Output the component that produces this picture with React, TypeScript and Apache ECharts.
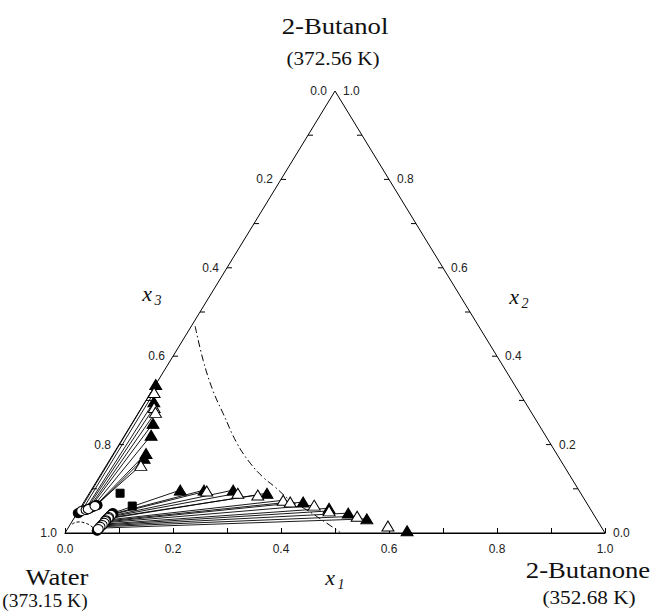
import React, { useEffect, useRef } from "react";
import * as echarts from "echarts";

// Compositions are [x1 (2-butanone), x2 (2-butanol)]; water = 1 - x1 - x2
const triangleVertices = [[0, 0], [0, 1], [1, 0], [0, 0]];

// Experimental tie lines (filled symbols)
const expOrganicA = [[0.000, 0.336], [0.016, 0.297], [0.039, 0.248], [0.049, 0.221], [0.060, 0.180], [0.062, 0.169]];
const expAqueousA = [[0.002, 0.045], [0.011, 0.052], [0.018, 0.056], [0.022, 0.059], [0.026, 0.063], [0.028, 0.063]];
const expOrganicB = [[0.165, 0.097], [0.209, 0.097], [0.263, 0.097], [0.329, 0.090], [0.406, 0.070], [0.461, 0.056], [0.502, 0.045], [0.543, 0.032]];
const expAqueousB = [[0.066, 0.045], [0.066, 0.043], [0.064, 0.038], [0.062, 0.032], [0.062, 0.025], [0.060, 0.020], [0.059, 0.016], [0.058, 0.011]];
const expOrganicLone = [[0.631, 0.005]];
const expAqueousLone = [[0.057, 0.005]];

// Calculated tie lines (open symbols)
const calcOrganicA = [[0.006, 0.318], [0.023, 0.284], [0.031, 0.273], [0.064, 0.153]];
const calcAqueousA = [[0.006, 0.050], [0.013, 0.052], [0.016, 0.054], [0.025, 0.061]];
const calcOrganicB = [[0.215, 0.095], [0.275, 0.090], [0.314, 0.086], [0.367, 0.074], [0.382, 0.070], [0.430, 0.063], [0.464, 0.050], [0.522, 0.038]];
const calcAqueousB = [[0.065, 0.041], [0.063, 0.036], [0.063, 0.034], [0.061, 0.029], [0.061, 0.027], [0.061, 0.023], [0.060, 0.018], [0.058, 0.014]];
const calcOrganicLone = [[0.590, 0.016]];
const calcAqueousLone = [[0.057, 0.009]];

// Squares
const squarePoints = [[0.057, 0.090], [0.094, 0.061]];

// Curves
const dashDotCurve = [[0.007, 0.468], [0.061, 0.390], [0.113, 0.322], [0.158, 0.270], [0.217, 0.203], [0.264, 0.158], [0.304, 0.126], [0.337, 0.104], [0.380, 0.074], [0.422, 0.052], [0.462, 0.029], [0.508, 0.002]];
const waterArc = [[0.003, 0.020], [0.012, 0.025], [0.026, 0.0225], [0.040, 0.016], [0.052, 0.007]];

// Side ticks (fraction of the side measured from the 2-Butanol apex)
const sideTickFractions = [0.1, 0.2, 0.3, 0.4, 0.5, 0.6, 0.7, 0.8, 0.9];
const sideLabelFractions = [0, 0.2, 0.4, 0.6, 0.8, 1.0];
const leftSideLabels = ["0.0", "0.2", "0.4", "0.6", "0.8", "1.0"];
const rightSideLabels = ["1.0", "0.8", "0.6", "0.4", "0.2", "0.0"];

const toXY = (p: number[]) => [p[0] + p[1] / 2, p[1]];
const leftPoint = (t: number) => toXY([0, 1 - t]);
const rightPoint = (t: number) => toXY([t, 1 - t]);

const SERIF = "'Liberation Serif', 'Times New Roman', serif";
const SANS = "'Liberation Sans', Arial, sans-serif";

function tieLines(org: number[][], aq: number[][]) {
  return org.map((o, i) => ({ coords: [toXY(aq[i]), toXY(o)] }));
}

export default function App() {
  const ref = useRef<HTMLDivElement>(null);
  useEffect(() => {
    if (!ref.current) return;
    const chart = echarts.init(ref.current, undefined, { renderer: "svg" });

    const titleText = (text: string, x: number, y: number, size: number, sx: number) => ({
      type: "text",
      x,
      y,
      scaleX: sx,
      style: {
        text,
        fontSize: size,
        fontFamily: SERIF,
        fill: "#111",
        textAlign: "center",
        textVerticalAlign: "middle",
        align: "center",
        verticalAlign: "middle",
      },
    });
    const italic = (text: string, x: number, y: number, size: number) => ({
      type: "text",
      x,
      y,
      style: {
        text,
        fontSize: size,
        fontStyle: "italic",
        fontFamily: SERIF,
        fill: "#111",
        textAlign: "center",
        textVerticalAlign: "middle",
        align: "center",
        verticalAlign: "middle",
      },
    });

    const tickSeries = (pts: number[][], dir: number) => ({
      type: "custom",
      coordinateSystem: "cartesian2d",
      silent: true,
      z: 5,
      data: pts.map((p) => [p[0], p[1], dir]),
      renderItem: (params: any, api: any) => {
        const c = api.coord([api.value(0), api.value(1)]);
        const d = api.value(2);
        return {
          type: "line",
          shape: { x1: c[0], y1: c[1], x2: c[0] + d * 5, y2: c[1] },
          style: { stroke: "#000", lineWidth: 1 },
        };
      },
    });
    const labelSeries = (pts: number[][], labels: string[], dir: number) => ({
      type: "custom",
      coordinateSystem: "cartesian2d",
      silent: true,
      z: 5,
      data: pts.map((p) => [p[0], p[1], dir]),
      renderItem: (params: any, api: any) => {
        const c = api.coord([api.value(0), api.value(1)]);
        const d = api.value(2);
        return {
          type: "text",
          x: c[0] + d * 8,
          y: c[1],
          style: {
            text: labels[params.dataIndex],
            fontSize: 12,
            fontFamily: SANS,
            fill: "#222",
            textAlign: d < 0 ? "right" : "left",
            textVerticalAlign: "middle",
            align: d < 0 ? "right" : "left",
            verticalAlign: "middle",
          },
        };
      },
    });

    const scatter = (data: number[][], symbol: string, size: any, filled: boolean, z: number) => ({
      type: "scatter",
      data: data.map(toXY),
      symbol,
      symbolSize: size,
      z,
      itemStyle: {
        color: filled ? "#000" : "#fff",
        borderColor: "#000",
        borderWidth: 1,
        opacity: 1,
      },
    });

    const option: any = {
      animation: false,
      grid: { left: 65, top: 91, width: 540, height: 442, containLabel: false },
      xAxis: {
        type: "value",
        min: 0,
        max: 1,
        interval: 0.1,
        axisLine: { show: true, onZero: false, lineStyle: { color: "#000", width: 1 } },
        axisTick: { show: true, inside: true, length: 5, lineStyle: { color: "#000", width: 1 } },
        axisLabel: {
          show: true,
          showMinLabel: true,
          showMaxLabel: true,
          margin: 10,
          fontSize: 12,
          fontFamily: SANS,
          color: "#222",
          formatter: (v: number) => {
            const k = Math.round(v * 10);
            return k % 2 === 0 ? (k / 10).toFixed(1) : "";
          },
        },
        splitLine: { show: false },
      },
      yAxis: { type: "value", min: 0, max: 1, show: false },
      graphic: [
        titleText("2-Butanol", 335, 26, 23, 1.16),
        titleText("(372.56 K)", 333, 59, 18, 1.18),
        titleText("Water", 57, 577, 23, 1.16),
        titleText("(373.15 K)", 45, 601, 18, 1.08),
        titleText("2-Butanone", 588, 570, 23, 1.16),
        titleText("(352.68 K)", 589, 598, 18, 1.18),
        italic("x", 147, 293, 22),
        italic("3", 158, 300, 14),
        italic("x", 514, 296, 22),
        italic("2", 525, 303, 14),
        italic("x", 330, 577, 22),
        italic("1", 341, 584, 14),
      ],
      series: [
        {
          type: "line",
          data: triangleVertices.map(toXY),
          symbol: "none",
          lineStyle: { color: "#000", width: 1 },
          z: 3,
        },
        tickSeries(sideTickFractions.map(leftPoint), 1),
        tickSeries(sideTickFractions.map(rightPoint), -1),
        labelSeries(sideLabelFractions.map(leftPoint), leftSideLabels, -1),
        labelSeries(sideLabelFractions.map(rightPoint), rightSideLabels, 1),
        {
          type: "lines",
          coordinateSystem: "cartesian2d",
          z: 2,
          lineStyle: { color: "#000", width: 0.9, opacity: 1 },
          data: [
            ...tieLines(expOrganicA, expAqueousA),
            ...tieLines(expOrganicB, expAqueousB),
            ...tieLines(calcOrganicA, calcAqueousA),
            ...tieLines(calcOrganicB, calcAqueousB),
          ],
        },
        {
          type: "line",
          data: dashDotCurve.map(toXY),
          smooth: 0.4,
          symbol: "none",
          z: 2,
          lineStyle: { color: "#000", width: 1, type: [7, 3, 1.5, 3] },
        },
        {
          type: "line",
          data: waterArc.map(toXY),
          smooth: 0.5,
          symbol: "none",
          z: 2,
          lineStyle: { color: "#000", width: 1, type: [3, 2] },
        },
        scatter([...expAqueousA, ...expAqueousB, ...expAqueousLone], "circle", [10, 9], true, 4),
        scatter([...calcAqueousA, ...calcAqueousB, ...calcAqueousLone], "circle", [10, 9], false, 5),
        scatter(squarePoints, "rect", [8, 8], true, 4),
        scatter([...expOrganicA, ...expOrganicB, ...expOrganicLone], "triangle", [12, 10], true, 4),
        scatter([...calcOrganicA, ...calcOrganicB, ...calcOrganicLone], "triangle", [12, 10], false, 5),
      ],
    };
    chart.setOption(option);
    return () => chart.dispose();
  }, []);
  return (
    <div
      ref={ref}
      style={{ position: "absolute", left: 0, top: 0, width: 655, height: 614, background: "#fff" }}
    />
  );
}
